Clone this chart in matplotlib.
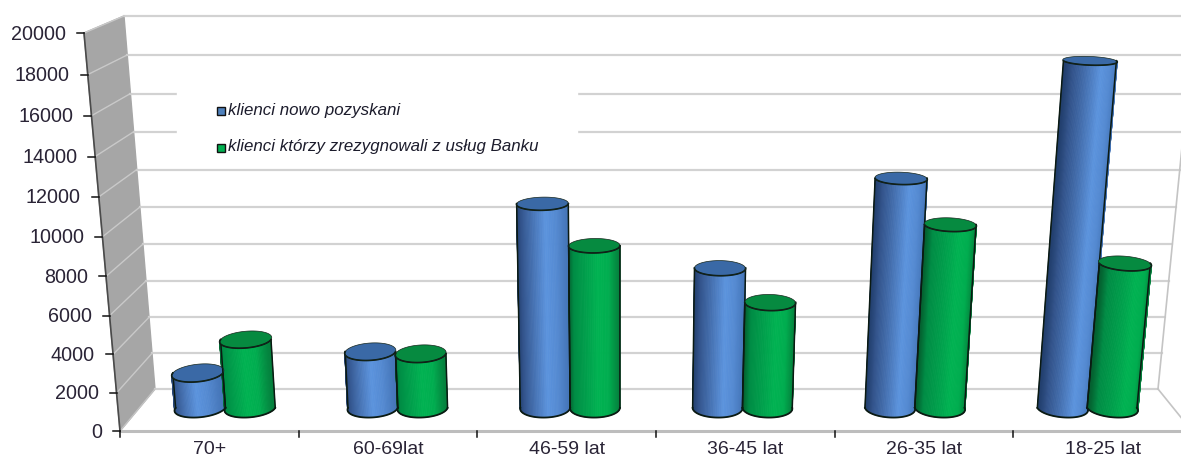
import matplotlib
matplotlib.use("Agg")
import matplotlib.pyplot as plt
from matplotlib.collections import PolyCollection
import numpy as np

categories = ["70+", "60-69lat", "46-59 lat", "36-45 lat", "26-35 lat", "18-25 lat"]
new_clients = [1900, 3050, 10870, 7500, 12180, 18150]
left_clients = [3700, 2940, 8680, 5680, 9780, 7750]
series_names = ["klienci nowo pozyskani", "klienci którzy zrezygnowali z usług Banku"]
y_ticks = list(range(0, 20001, 2000))

plt.rcParams["font.family"] = ["Liberation Sans", "DejaVu Sans"]

W, H = 1181, 459
VMAX = 20000.0
BAR_DEPTH = 0.55
RADIUS = 0.1445
DEPTH_R = 0.23


def project(cat, depth, value):
    # category position (0..6), depth (0 front, 1 back), value -> pixels
    t = np.asarray(value, dtype=float) / VMAX
    t = t / (1.05 - 0.05 * t)
    y = (431 - 398 * t) * (1 - depth) + (389 - 373 * t) * depth
    left = (120 - 36 * t) * (1 - depth) + (155 - 31 * t) * depth
    right = (1192 + 40 * t) * (1 - depth) + (1158 + 37 * t) * depth
    return left + np.asarray(cat) / 6.0 * (right - left), y


def shade(u, stops):
    pos = [0, 0.12, 0.6, 0.8, 1]
    return tuple(np.interp(u, pos, [s[c] for s in stops]) for c in range(3))


def cylinder(ax, center, value, stops, top_color):
    th = np.linspace(np.pi, 2 * np.pi, 61)
    cx = center + RADIUS * np.cos(th)
    dp = BAR_DEPTH + DEPTH_R * np.sin(th)
    bx, by = project(cx, dp, 0 * th)
    tx, ty = project(cx, dp, value + 0 * th)
    polys = []
    cols = []
    for i in range(len(th) - 1):
        polys.append([(bx[i], by[i]), (bx[i + 1], by[i + 1]), (tx[i + 1], ty[i + 1]), (tx[i], ty[i])])
        cols.append(shade((np.cos(th[i]) + np.cos(th[i + 1])) / 4 + 0.5, stops))
    ax.add_collection(PolyCollection(polys, facecolors=cols, edgecolors=cols, linewidths=0.6, zorder=3))
    ax.plot([bx[0], tx[0]], [by[0], ty[0]], color="#0b1a12", lw=1.1, zorder=4)
    ax.plot([bx[-1], tx[-1]], [by[-1], ty[-1]], color="#0b1a12", lw=1.1, zorder=4)
    ax.plot(bx, by, color="#0b1a12", lw=1.3, zorder=4)
    # top ellipse
    th2 = np.linspace(0, 2 * np.pi, 121)
    ex, ey = project(center + RADIUS * np.cos(th2), BAR_DEPTH + DEPTH_R * np.sin(th2), value + 0 * th2)
    ax.fill(ex, ey, facecolor=top_color, edgecolor="none", zorder=4)
    ax.plot(tx, ty, color="#0b1a12", lw=1.2, zorder=5)
    ax.plot(ex, ey, color="#16261c", lw=0.5, zorder=5)


fig = plt.figure(figsize=(W / 100, H / 100), dpi=100)
ax = fig.add_axes([0, 0, 1, 1])
ax.set_xlim(0, W)
ax.set_ylim(H, 0)
ax.axis("off")

# left wall
wx0, wy0 = project(0, 0, np.array([0.0, VMAX]))
wx1, wy1 = project(0, 1, np.array([0.0, VMAX]))
ax.fill([wx0[0], wx1[0], wx1[1], wx0[1]], [wy0[0], wy1[0], wy1[1], wy0[1]], color="#a6a6a6", zorder=1)
ax.plot(wx0, wy0, color="#4a4a4a", lw=1.2, zorder=2)

# gridlines on the wall and back
for v in y_ticks:
    x0, y0 = project(0, 0, v)
    x1, y1 = project(0, 1, v)
    x2, y2 = project(6, 1, v)
    if v > 0:
        ax.plot([x0, x1], [y0, y1], color="#c9c9c9", lw=1.0, zorder=1.5)
    ax.plot([x1, x2], [y1, y2], color="#d2d2d2", lw=1.6, zorder=1)

# right edge and floor
rx, ry = project(6, 1, np.array([0.0, VMAX]))
ax.plot(rx, ry, color="#c4c4c4", lw=1.2, zorder=1)
fx, fy = project(6, 0, 0)
ax.plot([rx[0], fx], [ry[0], fy], color="#c4c4c4", lw=1.2, zorder=1)
ax.plot([wx0[0], fx], [wy0[0], fy], color="#bdbdbd", lw=2.2, zorder=1.5)
lx, ly = project(0, 1, 0)
ax.plot([wx0[0], lx], [wy0[0], ly], color="#c4c4c4", lw=1.0, zorder=1.5)

# white area behind the legend
ax.fill([177, 577, 577, 177], [85, 85, 165, 165], color="white", zorder=2)

# value axis
for v in y_ticks:
    x0, y0 = project(0, 0, v)
    ax.plot([x0 - 7, x0], [y0, y0], color="#111111", lw=1.1, zorder=6)
    ax.text(x0 - 18, y0 + 1, str(v), ha="right", va="center", fontsize=14.2, color="#2a2436")

# category axis
for i in range(len(categories) + 1):
    x0, y0 = project(i, 0, 0)
    ax.plot([x0, x0], [y0, y0 + 6], color="#111111", lw=1.1, zorder=6)
for i, name in enumerate(categories):
    x0, y0 = project(i + 0.5, 0, 0)
    ax.text(x0, 449, name, ha="center", va="center", fontsize=14, color="#2a2436")

blue_stops = [(0.13, 0.24, 0.42), (0.20, 0.33, 0.55), (0.36, 0.58, 0.87), (0.33, 0.54, 0.82), (0.27, 0.46, 0.72)]
green_stops = [(0.02, 0.36, 0.18), (0.0, 0.55, 0.27), (0.0, 0.70, 0.32), (0.0, 0.68, 0.31), (0.02, 0.50, 0.24)]

for i in range(len(categories)):
    cylinder(ax, i + 0.5 - RADIUS, new_clients[i], blue_stops, "#3a69a6")
    cylinder(ax, i + 0.5 + RADIUS, left_clients[i], green_stops, "#068a40")

# legend
legend_y = [111, 148]
legend_colors = ["#4f81bd", "#00b050"]
for name, ly2, col in zip(series_names, legend_y, legend_colors):
    ax.fill([217, 225, 225, 217], [ly2 - 4, ly2 - 4, ly2 + 4, ly2 + 4], facecolor=col, edgecolor="#111111", lw=1, zorder=6)
    ax.text(228, ly2 - 1, name, ha="left", va="center", style="italic", fontsize=12.2, color="#1c1c2c", zorder=6)

fig.savefig("out.png", dpi=100)
